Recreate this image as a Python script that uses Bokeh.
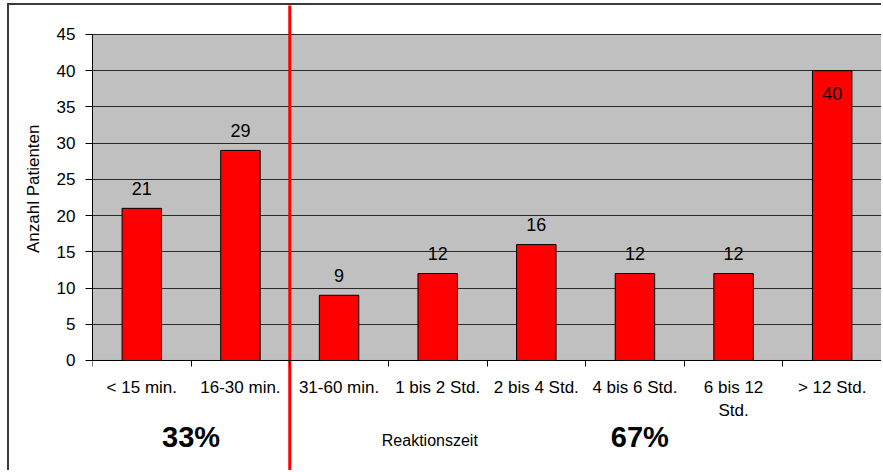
from bokeh.plotting import figure
from bokeh.models import Range1d, FixedTicker, ColumnDataSource, Title
from bokeh.embed import file_html
from bokeh.resources import INLINE
from bokeh.core.properties import value

# ---- data ----
categories = ["< 15 min.", "16-30 min.", "31-60 min.", "1 bis 2 Std.",
              "2 bis 4 Std.", "4 bis 6 Std.", "6 bis 12\nStd.", "> 12 Std."]
patients = [21, 29, 9, 12, 16, 12, 12, 40]
y_ticks = [0, 5, 10, 15, 20, 25, 30, 35, 40, 45]
share_labels = ["33%", "67%"]
split_after = 2          # number of categories left of the red divider
y_title = "Anzahl Patienten"
x_title = "Reaktionszeit"

FONT = "Liberation Sans"
n = len(categories)
y_max = y_ticks[-1]

# the frame spans the full canvas height so that the divider and the
# texts under the axis can be drawn; the plot area is a grey quad 0..45
p = figure(width=874, height=467, output_backend="svg", toolbar_location=None,
           x_range=Range1d(0, n), y_range=Range1d(-15.46, 49.0),
           min_border_left=83, min_border_right=2, min_border_top=0,
           min_border_bottom=0,
           background_fill_color="white", border_fill_color="white",
           styles={"margin-left": "7px", "margin-top": "3px",
                   "border-left": "2px solid #3a3a3a",
                   "border-top": "2px solid #3a3a3a"})
p.outline_line_color = None

# grey plot area
p.quad(left=0, right=n, bottom=0, top=y_max, fill_color="#C0C0C0",
       line_color="black", line_width=1, level="image")

# grid
p.xgrid.grid_line_color = None
p.ygrid.grid_line_color = "#2a2a2a"
p.ygrid.grid_line_width = 1
p.ygrid.ticker = FixedTicker(ticks=y_ticks)

# y axis
p.yaxis.ticker = FixedTicker(ticks=y_ticks)
p.yaxis.bounds = (0, y_max)
p.yaxis.axis_line_color = "black"
p.yaxis.major_tick_line_color = "black"
p.yaxis.major_tick_out = 7
p.yaxis.major_tick_in = 0
p.yaxis.minor_tick_line_color = None
p.yaxis.major_label_standoff = 10
p.yaxis.major_label_text_font = FONT
p.yaxis.major_label_text_font_size = "17px"
p.yaxis.major_label_text_color = "black"

# y axis title, placed next to the 0..45 part of the axis
p.add_layout(Title(text=y_title, align="right", offset=119,
                   vertical_align="middle", standoff=20,
                   text_font=FONT, text_font_size="17px",
                   text_font_style="normal", text_color="black"), "left")

# x axis at y = 0: labels at category centres, tick marks at boundaries
centers = [i + 0.5 for i in range(n)]
p.xaxis.fixed_location = 0
p.xaxis.ticker = FixedTicker(ticks=centers, minor_ticks=list(range(n + 1)))
p.xaxis.major_label_overrides = {c: lab for c, lab in zip(centers, categories)}
p.xaxis.axis_line_color = "black"
p.xaxis.major_tick_line_color = None
p.xaxis.major_tick_out = 0
p.xaxis.major_tick_in = 0
p.xaxis.minor_tick_line_color = "black"
p.xaxis.minor_tick_out = 6
p.xaxis.minor_tick_in = 0
p.xaxis.major_label_standoff = 12
p.xaxis.major_label_text_font = FONT
p.xaxis.major_label_text_font_size = "17px"
p.xaxis.major_label_text_color = "black"

# bars
src = ColumnDataSource(dict(
    x=centers, top=patients, label=[str(v) for v in patients],
    yoff=[23 if v > 35 else -20 for v in patients],
))
p.vbar(x="x", top="top", bottom=0, width=0.4, source=src,
       fill_color="#FF0000", line_color="black", line_width=1)
p.text(x="x", y="top", text="label", source=src, y_offset="yoff",
       text_align="center", text_baseline="middle",
       text_font=value(FONT), text_font_size="18px", text_color="black")

# red divider
p.segment(x0=split_after, x1=split_after, y0=-20, y1=y_max + 10,
          line_color="#FF0000", line_width=3)

# share labels and axis title under the chart
p.text(x=[split_after / 2, 5.55], y=[-10.6, -10.6], text=share_labels,
       text_align="center", text_baseline="middle",
       text_font=value(FONT), text_font_size="29px", text_font_style="bold",
       text_color="black")
p.text(x=[3.42], y=[-11.0], text=[x_title],
       text_align="center", text_baseline="middle",
       text_font=value(FONT), text_font_size="16px", text_color="black")

open("out.html", "w").write(file_html(p, INLINE))
